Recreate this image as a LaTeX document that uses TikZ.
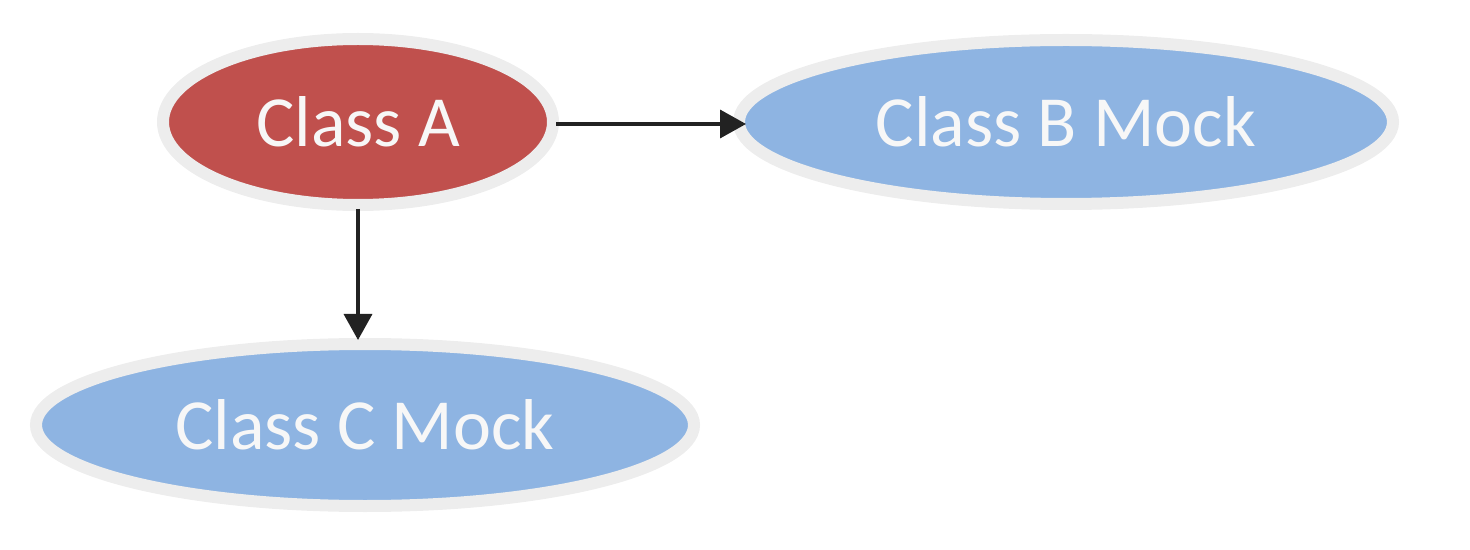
\documentclass[tikz,border=0pt]{standalone}
\usepackage{fontspec}
\setmainfont{Carlito}
\usetikzlibrary{shapes.geometric,arrows.meta}
\definecolor{redfill}{HTML}{C0504D}
\definecolor{bluefill}{HTML}{8EB4E2}
\definecolor{rim}{HTML}{EDEDED}
\definecolor{txt}{HTML}{F7F7F7}
\definecolor{conn}{HTML}{222222}
\tikzset{
  cls/.style={ellipse, draw=rim, line width=6pt, inner sep=0pt, outer sep=0pt,
    text=txt, font=\fontsize{36}{40}\selectfont},
  redcls/.style={cls, fill=redfill},
  bluecls/.style={cls, fill=bluefill},
  conn/.style={draw=conn, line width=1.8pt,
    -{Triangle[length=13pt,width=14pt]}}
}
\begin{document}
\begin{tikzpicture}[x=0.5pt,y=-0.5pt]
\useasboundingbox (0,0) rectangle (1470,550);
\node[redcls, minimum width=195pt, minimum height=83pt] (A) at (358,122) {Class A};
\node[bluecls, minimum width=327pt, minimum height=82pt] (B) at (1066,122) {Class B Mock};
\node[bluecls, minimum width=329pt, minimum height=81pt] (C) at (365,425) {Class C Mock};
\draw[conn, shorten <=1.5pt, shorten >=-3.5pt] ([yshift=-1pt]A.east) -- ([yshift=-1pt]B.west);
\draw[conn, shorten <=2pt, shorten >=2pt] (A.south) -- (A.south |- C.north);
\end{tikzpicture}
\end{document}
